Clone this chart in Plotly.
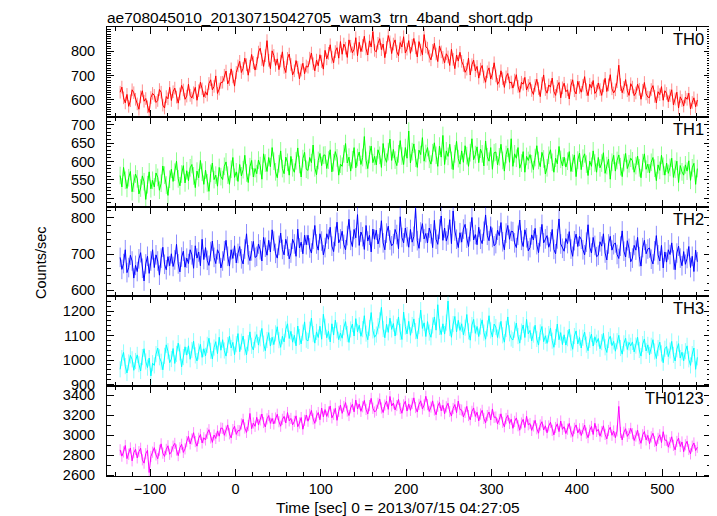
import numpy as np
import plotly.graph_objects as go
from plotly.subplots import make_subplots

TITLE = "ae708045010_20130715042705_wam3_trn_4band_short.qdp"
X_TITLE = "Time [sec] 0 = 2013/07/15 04:27:05"
Y_TITLE = "Counts/sec"

T_START = -135
T_STEP = 2
T_END = 541

names = ["TH0", "TH1", "TH2", "TH3", "TH0123"]
colors = ["#ff0000", "#00ff00", "#0000ff", "#00ffff", "#ff00ff"]
err_colors = ["rgba(255,0,0,0.45)", "rgba(0,255,0,0.45)", "rgba(0,0,255,0.45)",
              "rgba(0,255,255,0.45)", "rgba(255,0,255,0.45)"]

th0 = [
631,652,608,587,622,573,596,641,629,602, 583,561,612,637,594,605,571,548,609,626,
618,589,597,642,631,578,566,613,604,651, 597,633,648,611,586,624,659,640,602,615,
664,618,607,629,651,598,637,672,645,611, 633,619,667,682,641,655,698,626,644,671,
672,701,718,665,683,727,694,656,712,739, 758,712,729,771,744,701,738,786,753,722,
749,796,812,765,737,781,843,762,728,801, 782,741,768,724,759,797,733,712,770,788,
745,702,719,761,733,686,722,750,707,739, 734,771,792,748,719,763,740,785,757,726,
803,768,791,826,775,752,798,814,771,839, 787,829,812,774,846,820,793,808,855,781,
836,798,823,861,809,784,842,817,880,803, 797,832,851,806,829,773,815,864,838,790,
829,846,798,781,835,817,859,792,808,843, 791,824,852,813,776,839,805,785,868,817,
812,779,764,803,832,788,757,821,797,774, 752,789,776,741,807,766,728,784,759,795,
758,741,713,726,771,702,744,763,719,737, 689,726,741,694,672,715,731,685,708,752,
698,663,676,719,687,651,694,708,669,673, 648,681,703,655,631,672,664,692,640,659,
671,638,622,659,684,646,613,667,702,642, 627,661,652,689,634,618,655,671,608,649,
668,633,641,603,659,682,637,624,676,651, 631,659,695,642,617,664,648,679,626,636,
669,642,618,657,688,634,661,703,645,628, 641,674,742,662,629,651,683,637,618,666,
652,617,628,664,643,602,639,671,624,611, 609,642,658,614,587,633,621,654,598,637,
626,592,617,641,579,603,631,566,612,597, 574,611,602,627,562,589,608,571,599]

th1 = [
562,531,584,549,527,556,573,518,541,566, 553,512,528,561,545,497,537,572,526,549,
531,569,557,522,541,588,563,536,508,552, 579,546,571,601,553,534,566,589,542,575,
548,583,592,561,529,574,556,603,571,538, 577,542,519,568,596,551,563,533,584,559,
551,587,599,563,538,579,611,557,572,546, 592,561,578,617,569,543,586,603,558,581,
567,604,589,552,621,596,573,611,586,638, 601,572,556,594,629,581,567,612,598,563,
614,583,571,602,637,592,558,608,625,579, 576,611,597,645,583,564,603,622,589,617,
618,581,604,632,572,597,627,610,563,593, 587,621,649,596,612,574,605,638,583,611,
626,592,611,668,603,581,619,642,597,614, 591,632,617,584,649,612,598,627,661,603,
633,604,589,621,657,615,592,638,609,683, 596,627,648,609,584,631,619,665,601,622,
638,606,593,624,651,617,587,642,612,671, 592,629,614,647,603,578,621,655,608,593,
629,598,643,616,587,624,662,605,619,640, 597,634,621,588,656,613,601,638,579,624,
626,591,613,647,603,574,619,636,598,662, 587,621,609,638,582,596,627,571,614,603,
619,594,578,611,643,603,586,625,607,566, 583,617,632,598,571,609,594,641,606,588,
612,585,601,627,573,596,618,559,604,623, 578,609,621,593,562,601,587,629,596,571,
611,583,596,624,568,589,607,552,598,617, 574,603,618,586,559,597,622,581,594,609,
602,571,589,615,583,556,597,621,579,593, 569,598,611,582,548,591,576,617,587,563,
596,568,584,609,557,579,601,543,589,572, 563,591,574,602,549,583,595,538,581]

th2 = [
691,658,674,712,649,663,697,681,634,669, 652,687,704,661,626,673,694,647,681,712,
663,698,681,642,689,719,672,657,693,668, 701,666,684,727,673,651,692,708,664,689,
674,712,698,661,723,689,706,668,741,685, 718,683,669,707,736,691,674,712,701,662,
681,709,738,694,667,712,688,723,676,702, 721,687,673,714,756,698,682,709,735,691,
694,728,712,681,746,719,697,738,706,767, 736,702,689,724,758,713,698,741,722,687,
703,741,728,694,769,717,733,701,752,726, 752,717,703,741,779,728,711,756,736,698,
718,756,741,774,722,707,749,788,731,742, 763,727,712,751,796,738,721,768,745,809,
724,761,748,713,779,736,752,706,769,741, 766,728,745,792,731,712,758,777,739,723,
729,768,754,715,803,746,731,772,748,719, 768,733,749,826,737,716,761,784,742,757,
731,772,756,718,793,741,727,769,805,738, 772,736,753,795,729,819,764,741,718,759,
733,769,782,744,721,762,801,739,754,726, 774,741,729,763,808,752,737,776,746,723,
729,766,751,787,734,712,758,779,741,763, 762,731,718,752,794,738,721,767,745,709,
718,753,739,771,726,704,748,782,731,742, 751,719,734,768,713,701,742,797,728,716,
708,743,729,762,714,694,737,755,721,749, 741,712,698,733,781,719,703,746,724,693,
697,734,722,756,703,684,728,749,711,726, 731,699,688,722,764,708,692,737,716,679,
689,724,711,746,693,667,718,738,701,714, 717,686,673,709,751,698,681,724,662,706,
678,712,699,731,684,657,703,722,689,668, 707,672,688,721,663,694,652,711,679]

th3 = [
962,1008,1031,975,947,990,1019,1003,958,996, 1021,983,955,1012,1046,994,969,1008,935,987,
978,1024,1049,1011,993,960,1017,1062,1036,989, 1004,1047,986,1025,1069,1031,972,1012,1054,1020,
1058,1003,1041,1077,1019,996,1035,1064,1011,1046, 1017,1062,1089,1038,1004,1051,1075,1026,1093,1040,
1083,1039,1016,1061,1097,1049,1072,1022,1065,1108, 1034,1075,1098,1052,1021,1069,1115,1058,1041,1083,
1104,1061,1089,1129,1067,1038,1082,1112,1057,1093, 1063,1109,1136,1081,1052,1097,1074,1125,1148,1088,
1117,1073,1101,1058,1139,1094,1066,1112,1156,1083, 1078,1124,1171,1106,1069,1115,1092,1138,1085,1187,
1136,1091,1117,1074,1148,1102,1163,1121,1083,1110, 1089,1134,1157,1106,1072,1125,1147,1098,1169,1115,
1142,1097,1126,1181,1108,1083,1131,1194,1121,1093, 1104,1138,1162,1215,1127,1091,1146,1113,1171,1125,
1149,1098,1134,1176,1115,1084,1196,1137,1107,1158, 1101,1143,1168,1118,1087,1139,1204,1129,1152,1096,
1157,1112,1093,1141,1176,1122,1226,1135,1104,1148, 1106,1153,1241,1131,1093,1147,1178,1115,1162,1121,
1148,1103,1132,1186,1117,1081,1143,1166,1109,1137, 1096,1137,1164,1112,1085,1129,1181,1121,1094,1147,
1135,1092,1121,1158,1101,1073,1127,1176,1109,1088, 1082,1124,1151,1098,1069,1116,1143,1092,1166,1107,
1121,1078,1104,1142,1086,1061,1113,1137,1075,1099, 1068,1106,1131,1079,1052,1094,1147,1083,1112,1063,
1103,1061,1089,1126,1071,1044,1098,1119,1066,1092, 1049,1091,1114,1063,1038,1082,1106,1057,1095,1071,
1088,1046,1073,1109,1052,1031,1082,1097,1059,1076, 1036,1077,1101,1049,1024,1068,1089,1043,1072,1058,
1074,1033,1059,1093,1041,1016,1065,1086,1037,1062, 1021,1058,1083,1035,1006,1049,1073,1027,989,1046,
1055,1014,1039,1076,1021,996,1044,1067,1008,1032, 997,1036,1058,1003,978,1024,1049,962,1011]

th0123 = [
2852,2789,2831,2896,2764,2808,2871,2742,2823,2858, 2771,2834,2868,2752,2719,2813,2847,2625,2786,2829,
2874,2801,2763,2848,2912,2819,2786,2857,2893,2808, 2832,2889,2917,2851,2794,2873,2908,2826,2862,2935,
2987,2912,2961,3024,2935,2889,2968,3006,2921,2973, 2951,3018,3054,2972,2927,3001,2966,3042,2989,3071,
3067,2998,3041,3102,3013,2971,3055,3089,3007,3046, 3043,3112,3158,3071,3027,3096,3217,3064,3121,3088,
3178,3103,3152,3211,3126,3081,3163,3196,3118,3167, 3112,3171,3209,3134,3089,3158,3187,3121,3226,3143,
3167,3102,3138,3193,3084,3121,3176,3059,3148,3201, 3139,3208,3247,3162,3118,3191,3226,3154,3271,3183,
3256,3187,3231,3292,3173,3209,3268,3148,3237,3301, 3218,3287,3326,3241,3196,3272,3309,3233,3351,3262,
3312,3238,3284,3347,3257,3211,3296,3368,3269,3231, 3249,3318,3362,3271,3226,3301,3341,3258,3387,3292,
3321,3252,3296,3358,3267,3219,3303,3339,3241,3312, 3248,3317,3373,3276,3231,3308,3344,3262,3301,3389,
3306,3237,3281,3343,3252,3204,3289,3327,3243,3298, 3214,3283,3319,3236,3191,3267,3306,3225,3341,3256,
3251,3182,3227,3288,3196,3153,3238,3272,3187,3229, 3142,3211,3248,3167,3123,3196,3231,3152,3262,3178,
3181,3112,3157,3213,3128,3083,3166,3198,3117,3159, 3068,3137,3172,3094,3049,3121,3158,3076,3189,3103,
3116,3047,3092,3148,3063,3019,3101,3134,3051,3093, 3023,3092,3128,3047,3002,3076,3113,3035,3141,3058,
3084,3015,3059,3117,3031,2987,3068,3102,3022,3063, 2996,3064,3101,3019,2974,3048,3087,3006,3118,3037,
3058,2989,3034,3093,3007,2962,3046,3079,2998,3041, 2974,3042,3287,3026,2951,3029,3064,2987,3015,3068,
3014,2946,2991,3049,2963,2918,3003,3036,2952,2997, 2913,2982,3018,2936,2891,2967,3003,2925,3034,2949,
2948,2879,2924,2983,2897,2852,2936,2969,2886,2931, 2834,2903,2938,2856,2812,2889,2921,2845,2878]

# typical 1-sigma error per band (counts/sec)
errors = [26, 24, 27, 33, 56]

series = [th0, th1, th2, th3, th0123]

y_ranges = [[530, 899], [477.5, 721.7], [583.5, 831], [893, 1260], [2590, 3490]]
y_dticks = [100, 50, 100, 100, 200]
y_minor = [10, 10, 20, 20, 100]
X_RANGE = [-150.4, 557]

t = np.arange(T_START, T_END + 1, T_STEP)

fig = make_subplots(rows=5, cols=1, shared_xaxes=True, vertical_spacing=0)

FONT = "Liberation Sans, Arial, Helvetica, sans-serif"

for i, (name, ys) in enumerate(zip(names, series)):
    n = min(len(ys), len(t))
    fig.add_trace(go.Scatter(
        x=t[:n], y=ys[:n], mode="lines",
        line=dict(color=colors[i], width=1),
        error_y=dict(type="constant", value=errors[i], color=err_colors[i],
                     thickness=1, width=0),
        showlegend=False, hoverinfo="skip"), row=i + 1, col=1)
    fig.update_yaxes(row=i + 1, col=1, range=y_ranges[i], tickmode="linear",
                     tick0=0, dtick=y_dticks[i], ticks="inside", ticklen=7,
                     tickwidth=1, tickcolor="black", showline=True, linecolor="black",
                     linewidth=1, mirror="allticks", showgrid=False, zeroline=False,
                     tickfont=dict(family=FONT, size=14.5, color="black"),
                     ticklabelstandoff=8,
                     minor=dict(dtick=y_minor[i], tick0=0, ticks="inside", ticklen=4,
                                tickwidth=1, tickcolor="black", showgrid=False))
    fig.update_xaxes(row=i + 1, col=1, range=X_RANGE, tickmode="linear", tick0=0,
                     dtick=100, ticks="inside", ticklen=7, tickwidth=1,
                     tickcolor="black", showline=True, linecolor="black", linewidth=1,
                     mirror="allticks", showgrid=False, zeroline=False,
                     showticklabels=(i == 4),
                     tickfont=dict(family=FONT, size=14.5, color="black"),
                     minor=dict(dtick=20, tick0=0, ticks="inside", ticklen=4,
                                tickwidth=1, tickcolor="black", showgrid=False))
    dom_top = 1 - i * 0.2
    fig.add_annotation(text=name, xref="paper", yref="paper", x=1, y=dom_top,
                       xanchor="right", yanchor="top", xshift=-5, yshift=-1,
                       showarrow=False, font=dict(family=FONT, size=16.5, color="black"))

fig.add_annotation(text=TITLE, xref="paper", yref="paper", x=0, y=1, xanchor="left",
                   yanchor="bottom", yshift=-1, xshift=-2, showarrow=False,
                   font=dict(family=FONT, size=15.5, color="black"))
fig.add_annotation(text=X_TITLE, xref="paper", yref="paper", x=(397.5 - 107) / 604, y=0,
                   xanchor="center", yanchor="top", yshift=-21, showarrow=False,
                   font=dict(family=FONT, size=15.5, color="black"))
fig.add_annotation(text=Y_TITLE, xref="paper", yref="paper", x=0, y=(476 - 263) / 449,
                   xanchor="center", yanchor="middle", xshift=-66, textangle=-90,
                   showarrow=False, font=dict(family=FONT, size=14.5, color="black"))

# the page adds an 8 px body margin, so the figure is 8 px smaller on each axis
fig.update_layout(width=709, height=508, margin=dict(l=99, r=6, t=19, b=40),
                  paper_bgcolor="white", plot_bgcolor="white")

fig.write_html("out.html")
